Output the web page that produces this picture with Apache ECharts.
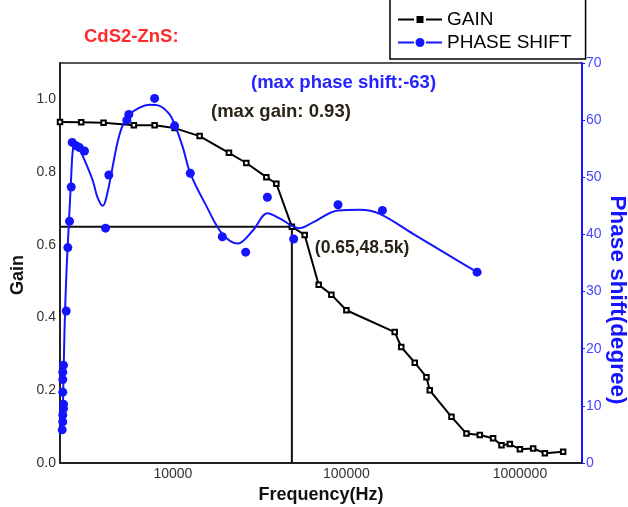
<!DOCTYPE html>
<html>
<head>
<meta charset="utf-8">
<script src="https://cdn.jsdelivr.net/npm/echarts@6/dist/echarts.min.js"></script>
<style>
  html, body { margin: 0; padding: 0; background: #fff; }
  #chart { width: 628px; height: 507px; }
</style>
</head>
<body>
<div id="chart"></div>
<script>
// Frequency range of the log axis (Hz)
const freqMin = 2236;
const freqMax = 2279000;

// Gain vs frequency (measured points)
const gainFreq = [2236, 2962, 3985, 5958, 7845, 10230, 14260, 21040, 26500, 34580, 39480, 48500, 57480, 69220, 81930, 100000, 189900, 207000, 247700, 289300, 302300, 403200, 492000, 587000, 700500, 783100, 874600, 1000000, 1192000, 1392000, 1775000];
const gainVals = [0.938, 0.937, 0.936, 0.929, 0.929, 0.921, 0.899, 0.853, 0.825, 0.786, 0.768, 0.65, 0.627, 0.49, 0.463, 0.42, 0.36, 0.319, 0.276, 0.236, 0.2, 0.127, 0.081, 0.077, 0.068, 0.049, 0.052, 0.038, 0.04, 0.027, 0.031];

// Phase shift (degree) measured points
const phaseFreq = [2302, 2320, 2320, 2342, 2342, 2320, 2320, 2320, 2342, 2428, 2481, 2537, 2595, 2629, 2773, 2897, 3096, 4092, 4275, 5429, 5576, 7845, 10230, 12600, 19270, 26270, 35040, 49670, 89450, 161300, 566400];
const phaseVals = [5.8, 7.2, 8.4, 9.5, 10.3, 12.4, 14.6, 15.9, 17.1, 26.6, 37.7, 42.3, 48.3, 56.1, 55.5, 55.2, 54.6, 41.1, 50.4, 60.0, 61.0, 63.8, 59.0, 50.7, 39.6, 36.9, 46.5, 39.2, 45.2, 44.2, 33.4];

// Smoothed phase-shift fit curve
const fitFreq = [2311, 2374, 2438, 2520, 2588, 2658, 2748, 2897, 3096, 3456, 3679, 3948, 4218, 4414, 4927, 5502, 6427, 7337, 8380, 9572, 10230, 11420, 12600, 15580, 19270, 23710, 28930, 35040, 41240, 49200, 53800, 64190, 89450, 119300, 155600, 242200, 377300, 566400];
const fitVals = [5.8, 23.2, 33.7, 42.4, 49.4, 55.0, 55.4, 54.8, 53.0, 49.4, 46.5, 45.0, 47.6, 50.6, 57.5, 60.7, 62.2, 62.7, 62.5, 61.0, 59.3, 55.2, 50.7, 45.0, 40.1, 38.4, 40.7, 43.7, 42.8, 41.4, 41.1, 42.1, 44.2, 44.3, 43.6, 40.1, 36.6, 33.4];

// Crossing point of gain and phase curves
const refFreq = 48500;
const refGain = 0.65;

const maxGain = 0.93;
const maxPhase = -63;

const BLUE = '#1414ff';
const FONT = '"Liberation Sans", Arial, sans-serif';

const zip = (xs, ys) => xs.map((x, i) => [x, ys[i]]);

const chart = echarts.init(document.getElementById('chart'), null, { renderer: 'canvas' });

const option = {
  animation: false,
  backgroundColor: '#fff',
  textStyle: { fontFamily: FONT },
  grid: {
    left: 60, right: 46, top: 63, bottom: 44,
    outerBoundsMode: 'none', containLabel: false,
    show: true, borderColor: '#222', borderWidth: 1.5
  },
  legend: {
    orient: 'vertical',
    left: 390, top: -10,
    padding: [20, 14, 7, 8],
    itemWidth: 44, itemHeight: 9, itemGap: 4,
    borderColor: '#000', borderWidth: 1.5,
    backgroundColor: '#fff',
    selectedMode: false,
    textStyle: { fontSize: 19, color: '#000', fontFamily: FONT },
    data: [
      { name: 'GAIN', icon: 'path://M0,2.5H16V4.5H0Z M18.5,0H25.5V7H18.5Z M28,2.5H44V4.5H28Z', itemStyle: { color: '#000', borderWidth: 0, opacity: 1 } },
      { name: 'PHASE SHIFT', icon: 'path://M0,3.5H16V5.5H0Z M17.5,4.5A4.5,4.5 0 1 0 26.5,4.5A4.5,4.5 0 1 0 17.5,4.5Z M28,3.5H44V5.5H28Z', itemStyle: { color: BLUE, borderWidth: 0, opacity: 1 } }
    ]
  },
  xAxis: {
    type: 'log', logBase: 10, min: freqMin, max: freqMax,
    axisLine: { lineStyle: { color: '#222', width: 2 } },
    axisTick: { show: false },
    splitLine: { show: false },
    axisLabel: {
      fontSize: 14, color: '#333', margin: 4,
      formatter: v => {
        const lg = Math.log10(v);
        return Math.abs(lg - Math.round(lg)) < 1e-6 ? String(Math.round(v)) : '';
      }
    },
    name: 'Frequency(Hz)', nameLocation: 'middle', nameGap: 23,
    nameTextStyle: { fontSize: 18, fontWeight: 'bold', color: '#111' }
  },
  yAxis: [
    {
      type: 'value', min: 0, max: 1.1, interval: 0.2, position: 'left',
      axisLine: { show: true, lineStyle: { color: '#222', width: 2 } },
      axisTick: { show: false },
      splitLine: { show: false },
      axisLabel: { fontSize: 14, color: '#333', margin: 4, showMaxLabel: false, formatter: v => v.toFixed(1) }
    },
    {
      type: 'value', min: 0, max: 70, interval: 10, position: 'right',
      axisLine: { show: true, lineStyle: { color: BLUE, width: 2 } },
      axisTick: { show: true, inside: false, length: 3, lineStyle: { color: BLUE, width: 1 } },
      splitLine: { show: false },
      axisLabel: { fontSize: 14, color: '#4646ff', margin: 4 }
    }
  ],
  series: [
    {
      name: 'ref', type: 'line', yAxisIndex: 0, silent: true,
      data: [[freqMin, refGain], [refFreq, refGain], [refFreq, 0]],
      symbol: 'none',
      lineStyle: { color: '#111', width: 2 },
      z: 1
    },
    {
      name: 'GAIN', type: 'line', yAxisIndex: 0,
      data: zip(gainFreq, gainVals),
      symbol: 'emptyRect', symbolSize: 4.5,
      lineStyle: { color: '#000', width: 2 },
      itemStyle: { color: '#000', borderWidth: 1 },
      z: 3
    },
    {
      name: 'PHASE SHIFT', type: 'line', yAxisIndex: 1,
      data: zip(fitFreq, fitVals),
      smooth: 0.35, symbol: 'none',
      lineStyle: { color: BLUE, width: 2 },
      z: 4
    },
    {
      name: 'PHASE SHIFT', type: 'scatter', yAxisIndex: 1,
      data: zip(phaseFreq, phaseVals),
      symbol: 'circle', symbolSize: 9,
      itemStyle: { color: BLUE, opacity: 1 },
      z: 5
    }
  ]
};

chart.setOption(option);

// Annotations; the crossing label is anchored to the crossing point
const refPx = chart.convertToPixel({ xAxisIndex: 0, yAxisIndex: 0 }, [refFreq, refGain]);

chart.setOption({
  graphic: [
    {
      type: 'text', left: 84, top: 27,
      style: { text: 'CdS2-ZnS:', font: 'bold 18.5px ' + FONT, fill: '#ff2a2a' }
    },
    {
      type: 'text', left: 251, top: 73,
      style: { text: '(max phase shift:' + maxPhase + ')', font: 'bold 18.5px ' + FONT, fill: '#2525ff' }
    },
    {
      type: 'text', left: 211, top: 102,
      style: { text: '(max gain: ' + maxGain.toFixed(2) + ')', font: 'bold 18.5px ' + FONT, fill: '#2a2418' }
    },
    {
      type: 'text', x: refPx[0] + 23, y: refPx[1] + 22,
      style: {
        text: '(' + refGain + ',' + (refFreq / 1000) + 'k)',
        font: 'bold 17.5px ' + FONT, fill: '#2a2418', verticalAlign: 'middle'
      }
    },
    // Axis titles
    {
      type: 'text', x: 18, y: 275, rotation: Math.PI / 2,
      style: { text: 'Gain', font: 'bold 18px ' + FONT, fill: '#111', align: 'center', verticalAlign: 'middle' }
    },
    {
      type: 'text', x: 617, y: 300, rotation: -Math.PI / 2,
      style: { text: 'Phase shift(degree)', font: 'bold 22.5px ' + FONT, fill: BLUE, align: 'center', verticalAlign: 'middle' }
    }
  ]
});
</script>
</body>
</html>
